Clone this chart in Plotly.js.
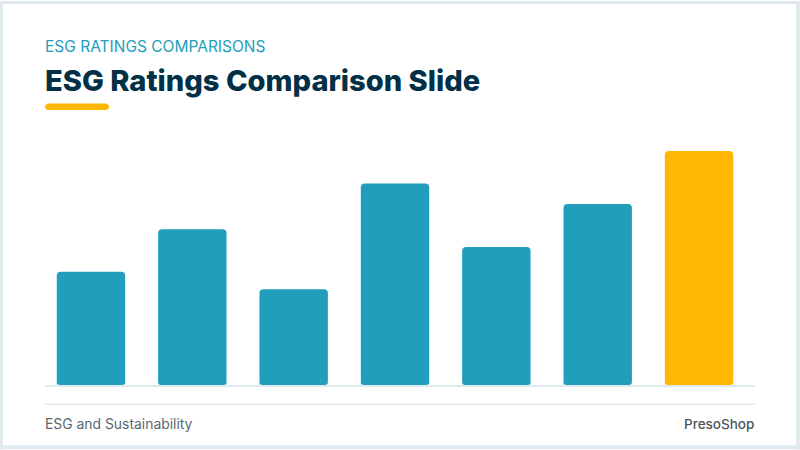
<!DOCTYPE html>
<html>
<head>
<meta charset="utf-8">
<script src="https://cdn.plot.ly/plotly-3.0.1.min.js"></script>
<style>
  html, body { margin: 0; padding: 0; background: #fff; }
  #grafico { width: 800px; height: 450px; }
</style>
</head>
<body>
<div id="grafico"></div>
<script>
const categorias = ["A", "B", "C", "D", "E", "F", "G"]
const valores = [44.6, 61.3, 37.7, 79.3, 54.3, 71.3, 92.1]
const cores = ["#219ebc", "#219ebc", "#219ebc", "#219ebc", "#219ebc", "#219ebc", "#ffb703"]

const sobretitulo = "ESG RATINGS COMPARISONS"
const titulo = "ESG Ratings Comparison Slide"
const rodapeEsq = "ESG and Sustainability"
const rodapeDir = "PresoShop"

const fonte = "Inter, 'Noto Sans', sans-serif"
const larg = 800
const alt = 450
const margem = { l: 45, r: 45, t: 130.5, b: 64.5, pad: 0 }
const largBarra = 0.675

// pixel da pagina para coordenada paper
const px = (x) => (x - margem.l) / (larg - margem.l - margem.r)
const py = (y) => (alt - margem.b - y) / (alt - margem.t - margem.b)

function texto(x, y, text, size, color, anchor, weight) {
  return {
    xref: "paper",
    yref: "paper",
    x: px(x),
    y: py(y),
    text: text,
    showarrow: false,
    xanchor: anchor,
    yanchor: "middle",
    borderpad: 0,
    font: { family: fonte, size: size, color: color, weight: weight },
  }
}

function retangulo(x0, y0, x1, y1, cor) {
  return {
    type: "rect",
    xref: "paper",
    yref: "paper",
    x0: px(x0),
    x1: px(x1),
    y0: py(y0),
    y1: py(y1),
    fillcolor: cor,
    line: { width: 0 },
    layer: "below",
  }
}

// traco amarelo com pontas arredondadas
const tracoAmarelo = {
  type: "path",
  xref: "paper",
  yref: "paper",
  path:
    `M ${px(47.5)},${py(103)} L ${px(106.5)},${py(103)} Q ${px(112)},${py(106.3)} ${px(106.5)},${py(109.5)} ` +
    `L ${px(47.5)},${py(109.5)} Q ${px(42)},${py(106.3)} ${px(47.5)},${py(103)} Z`,
  fillcolor: "#ffb703",
  line: { width: 0 },
}

const moldura = [
  retangulo(0, 0, 800, 3, "#dfeaee"),
  retangulo(0, 446, 800, 450, "#dfeaee"),
  retangulo(0, 0, 3, 450, "#dfeaee"),
  retangulo(796, 0, 800, 450, "#dfeaee"),
  retangulo(45, 404, 755, 405.5, "#dfeaee"),
]

// cantos inferiores das barras: a cornerradius so arredonda o topo
const rx = 0.03
const ry = 1.2
const cantos = []
categorias.forEach((c, i) => {
  const e = i - largBarra / 2
  const d = i + largBarra / 2
  cantos.push({
    type: "path",
    xref: "x",
    yref: "y",
    path: `M ${e},0 L ${e},${ry} Q ${e},0 ${e + rx},0 Z`,
    fillcolor: "#ffffff",
    line: { width: 0 },
  })
  cantos.push({
    type: "path",
    xref: "x",
    yref: "y",
    path: `M ${d},0 L ${d},${ry} Q ${d},0 ${d - rx},0 Z`,
    fillcolor: "#ffffff",
    line: { width: 0 },
  })
})

const dados = [
  {
    type: "bar",
    x: categorias,
    y: valores,
    width: largBarra,
    marker: { color: cores, cornerradius: 4, line: { width: 0 } },
    hoverinfo: "skip",
  },
]

const layout = {
  width: larg,
  height: alt,
  margin: margem,
  paper_bgcolor: "#ffffff",
  plot_bgcolor: "#ffffff",
  showlegend: false,
  xaxis: {
    type: "category",
    range: [-0.4536, 6.552],
    showticklabels: false,
    ticks: "",
    showgrid: false,
    zeroline: false,
    showline: true,
    linecolor: "#dfeaee",
    linewidth: 2,
  },
  yaxis: {
    range: [0, 100],
    visible: false,
    showgrid: false,
    zeroline: false,
  },
  shapes: moldura.concat([tracoAmarelo], cantos),
  annotations: [
    texto(43.8, 45.5, sobretitulo, 15.5, "#219ebc", "left", 400),
    texto(43.5, 80, titulo, 29.1, "#023047", "left", 800),
    texto(43.8, 424.5, rodapeEsq, 13.9, "#5b6770", "left", 400),
    texto(755, 424.5, rodapeDir, 13.5, "#4a5560", "right", 500),
  ],
}

Plotly.newPlot("grafico", dados, layout, { displayModeBar: false, staticPlot: true })
</script>
</body>
</html>
